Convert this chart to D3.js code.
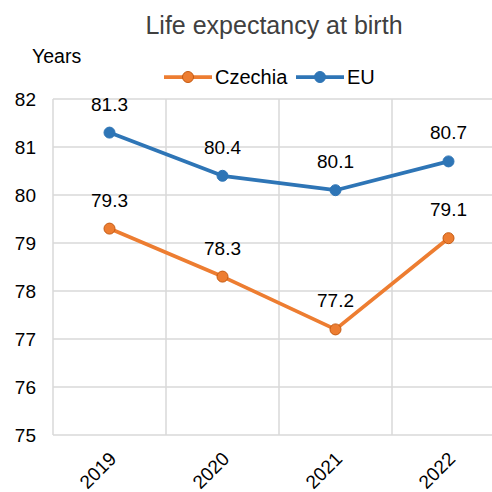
<!DOCTYPE html>
<html>
<head>
<meta charset="utf-8">
<script src="https://cdn.jsdelivr.net/npm/d3@7"></script>
<style>
  body { margin: 0; background: #fff; }
  text { font-family: "Liberation Sans", Arial, sans-serif; }
</style>
</head>
<body>
<div id="grafiek"></div>
<script>
// Data
const years = ['2019', '2020', '2021', '2022'];
const czechia = [79.3, 78.3, 77.2, 79.1];
const eu = [81.3, 80.4, 80.1, 80.7];
const yTicks = [75, 76, 77, 78, 79, 80, 81, 82];
const seriesNames = ['Czechia', 'EU'];
const seriesColors = ['#ED7D31', '#2E75B6'];
const markerStrokes = ['#C55A11', '#2E75B6'];

const W = 492, H = 492;
const plot = { left: 53, right: 505, top: 99, bottom: 435 };

const svg = d3.select('#grafiek')
  .append('svg')
  .attr('width', W)
  .attr('height', H);

const x = d3.scaleBand()
  .domain(years)
  .range([plot.left, plot.right]);

const y = d3.scaleLinear()
  .domain([75, 82])
  .range([plot.bottom, plot.top]);

// gridlines
svg.append('g')
  .selectAll('line.h')
  .data(yTicks)
  .enter()
  .append('line')
    .attr('x1', plot.left)
    .attr('x2', plot.right)
    .attr('y1', d => y(d))
    .attr('y2', d => y(d))
    .style('stroke', '#d9d9d9')
    .style('stroke-width', 1.5);

svg.append('g')
  .selectAll('line.v')
  .data([plot.left].concat(years.map(d => x(d) + x.bandwidth())))
  .enter()
  .append('line')
    .attr('x1', d => d)
    .attr('x2', d => d)
    .attr('y1', plot.top)
    .attr('y2', plot.bottom)
    .style('stroke', '#d9d9d9')
    .style('stroke-width', 1.5);

// y axis labels
const yAxis = svg.append('g')
  .attr('transform', `translate(${plot.left}, 0)`)
  .call(d3.axisLeft(y).tickValues(yTicks).tickSize(0).tickPadding(17).tickFormat(d3.format('d')));
yAxis.select('.domain').remove();
yAxis.selectAll('text')
  .style('font-size', '19px')
  .style('fill', '#000')
  .style('font-family', '"Liberation Sans", Arial, sans-serif');

// x axis labels
const xAxis = svg.append('g')
  .attr('transform', `translate(0, ${plot.bottom})`)
  .call(d3.axisBottom(x).tickSize(0));
xAxis.select('.domain').remove();
xAxis.selectAll('text')
  .attr('y', 0)
  .attr('dy', 0)
  .attr('transform', 'translate(8, 25) rotate(-45)')
  .style('text-anchor', 'end')
  .style('font-size', '19px')
  .style('fill', '#000')
  .style('font-family', '"Liberation Sans", Arial, sans-serif');

// lines
const line = d3.line()
  .x((d, i) => x(years[i]) + x.bandwidth() / 2)
  .y(d => y(d));

[czechia, eu].forEach(function (values, s) {
  svg.append('path')
    .datum(values)
    .attr('d', line)
    .style('fill', 'none')
    .style('stroke', seriesColors[s])
    .style('stroke-width', 3.75)
    .style('stroke-linejoin', 'round');

  svg.append('g')
    .selectAll('circle')
    .data(values)
    .enter()
    .append('circle')
      .attr('cx', (d, i) => x(years[i]) + x.bandwidth() / 2)
      .attr('cy', d => y(d))
      .attr('r', 5.5)
      .style('fill', seriesColors[s])
      .style('stroke', markerStrokes[s])
      .style('stroke-width', 1);

  svg.append('g')
    .selectAll('text')
    .data(values)
    .enter()
    .append('text')
      .attr('x', (d, i) => x(years[i]) + x.bandwidth() / 2)
      .attr('y', d => y(d) - 22)
      .attr('text-anchor', 'middle')
      .style('font-size', '19px')
      .style('fill', '#000')
      .text(d => d.toFixed(1));
});

// title
svg.append('text')
  .attr('x', 274)
  .attr('y', 34)
  .attr('text-anchor', 'middle')
  .style('font-size', '25px')
  .style('fill', '#404040')
  .text('Life expectancy at birth');

// axis title
svg.append('text')
  .attr('x', 32)
  .attr('y', 63)
  .style('font-size', '19.5px')
  .style('fill', '#000')
  .text('Years');

// legend
const legendX = [164, 296];
seriesNames.forEach(function (name, s) {
  const g = svg.append('g').attr('transform', `translate(${legendX[s]}, 77)`);
  g.append('line')
    .attr('x1', 0).attr('x2', 48)
    .attr('y1', 0).attr('y2', 0)
    .style('stroke', seriesColors[s])
    .style('stroke-width', 3.75);
  g.append('circle')
    .attr('cx', 24).attr('cy', 0).attr('r', 5.5)
    .style('fill', seriesColors[s])
    .style('stroke', markerStrokes[s])
    .style('stroke-width', 1);
  g.append('text')
    .attr('x', 51)
    .attr('y', 7)
    .style('font-size', '20px')
    .style('fill', '#000')
    .text(name);
});
</script>
</body>
</html>
